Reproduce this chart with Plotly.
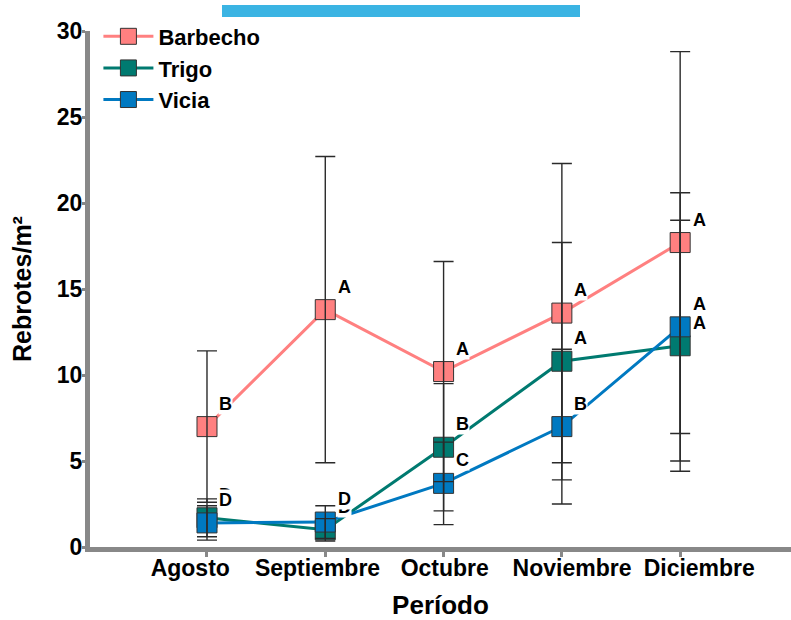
import plotly.graph_objects as go

# Sampling periods and mean regrowth density (shoots per m²) with error bars
periods = ["Agosto", "Septiembre", "Octubre", "Noviembre", "Diciembre"]

barbecho = [7.0, 13.8, 10.2, 13.6, 17.7]
barbecho_err = [4.4, 8.9, 6.4, 8.7, 11.1]
barbecho_letters = ["B", "A", "A", "A", "A"]

trigo = [1.7, 1.0, 5.8, 10.8, 11.7]
trigo_err = [1.1, 0.65, 3.7, 6.9, 7.3]
trigo_letters = ["D", "D", "B", "A", "A"]

vicia = [1.4, 1.45, 3.7, 7.0, 12.8]
vicia_err = [1.0, 0.95, 2.4, 4.5, 7.8]
vicia_letters = ["D", "D", "C", "B", "A"]

yticks = [0, 5, 10, 15, 20, 25, 30]

FONT = "Liberation Sans"
idx = list(range(len(periods)))

series = [
    ("Barbecho", barbecho, barbecho_err, barbecho_letters, "#FF8080"),
    ("Trigo", trigo, trigo_err, trigo_letters, "#007A70"),
    ("Vicia", vicia, vicia_err, vicia_letters, "#0079C1"),
]

fig = go.Figure()

# Lines with square markers
for name, vals, err, letters, color in series:
    fig.add_trace(go.Scatter(
        x=idx, y=vals, name=name, mode="lines+markers",
        line=dict(color=color, width=3),
        marker=dict(symbol="square", size=20, color=color,
                    line=dict(color="#333333", width=1)),
        cliponaxis=False,
    ))

# Error bars drawn above the markers
for name, vals, err, letters, color in series:
    fig.add_trace(go.Scatter(
        x=idx, y=vals, mode="markers", showlegend=False, hoverinfo="skip",
        marker=dict(size=1, color="rgba(0,0,0,0)"),
        error_y=dict(type="data", array=err, visible=True,
                     color="#2a2a2a", thickness=1.4, width=10),
        cliponaxis=False,
    ))

# Significance letters beside each point
for name, vals, err, letters, color in series:
    for i, (v, lt) in enumerate(zip(vals, letters)):
        fig.add_annotation(
            x=i, y=v, text=lt, showarrow=False,
            xshift=19, yshift=23, bgcolor="white", borderpad=0,
            font=dict(family=FONT, size=18, color="black", weight="bold"),
        )

# Decorative header bar
fig.add_shape(type="rect", xref="paper", yref="paper",
              x0=0.1883, x1=0.699, y0=1.0271, y1=1.0504,
              fillcolor="#3BB4E3", line=dict(width=0), layer="above")

axis_font = dict(family=FONT, size=23, color="black", weight="bold")

fig.update_layout(
    width=791, height=620,
    margin=dict(l=90, r=0, t=31, b=73),
    paper_bgcolor="white", plot_bgcolor="white",
    showlegend=True,
    legend=dict(
        x=0.012, y=1.03, xanchor="left", yanchor="top",
        font=dict(family=FONT, size=22, color="black", weight="bold"),
        bgcolor="rgba(0,0,0,0)", itemwidth=50, tracegroupgap=0,
    ),
    xaxis=dict(
        range=[-0.989, 4.937],
        tickvals=idx, ticktext=[""] * len(idx),
        showline=True, linecolor="#888888", linewidth=5,
        ticks="outside", ticklen=5, tickwidth=3, tickcolor="#888888",
        showgrid=False, zeroline=False,
        title=dict(text="Período", font=dict(family=FONT, size=26, color="black", weight="bold"),
                   standoff=44),
    ),
    # Label axis: category names spaced slightly wider than the tick marks
    xaxis2=dict(
        overlaying="x", side="bottom", anchor="y",
        range=[-0.788, 4.721],
        tickvals=idx, ticktext=periods, tickfont=axis_font,
        ticklabelstandoff=5,
        showline=False, ticks="", showgrid=False, zeroline=False,
    ),
    yaxis=dict(
        range=[0, 30], tickvals=yticks,
        showline=True, linecolor="#888888", linewidth=5,
        ticks="outside", ticklen=3, tickwidth=3, tickcolor="#888888",
        tickfont=axis_font, ticklabelstandoff=-5,
        showgrid=False, zeroline=False,
        title=dict(text="Rebrotes/m²", font=dict(family=FONT, size=25, color="black", weight="bold"),
                   standoff=20),
    ),
)

# Invisible trace anchoring the label axis
fig.add_trace(go.Scatter(x=idx, y=[None] * len(idx), xaxis="x2", yaxis="y",
                         showlegend=False, hoverinfo="skip", mode="markers"))

fig.write_html("out.html")
